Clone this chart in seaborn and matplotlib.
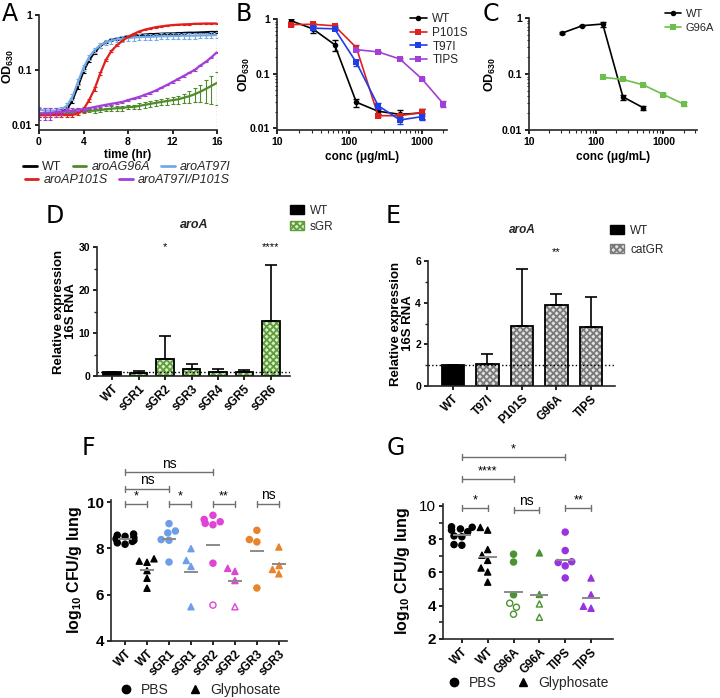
import numpy as np
import pandas as pd
import matplotlib
matplotlib.use("Agg")
import matplotlib.pyplot as plt
import seaborn as sns
from matplotlib.lines import Line2D
from matplotlib.patches import Patch
from matplotlib.ticker import FixedLocator, NullFormatter
import warnings

warnings.filterwarnings("ignore", category=UserWarning)

sns.set_theme(style="ticks")
plt.rcParams["font.family"] = ["Liberation Sans", "DejaVu Sans"]
plt.rcParams["mathtext.fontset"] = "custom"
plt.rcParams["mathtext.rm"] = "Liberation Sans"
plt.rcParams["mathtext.bf"] = "Liberation Sans:bold"
plt.rcParams["axes.linewidth"] = 1.2
plt.rcParams["xtick.major.width"] = 1.2
plt.rcParams["ytick.major.width"] = 1.2
plt.rcParams["xtick.major.size"] = 3
plt.rcParams["ytick.major.size"] = 3
plt.rcParams["hatch.linewidth"] = 1.3

# ---------------- data ----------------
# A: growth curves (OD630 every 30 min)
time_hr = np.arange(0, 16.5, 0.5)
a_wt = [0.015, 0.015, 0.016, 0.016, 0.017, 0.019, 0.028, 0.05, 0.095, 0.15, 0.21, 0.27, 0.32, 0.35, 0.37, 0.39, 0.41,
        0.42, 0.43, 0.44, 0.445, 0.45, 0.455, 0.46, 0.46, 0.465, 0.47, 0.475, 0.475, 0.48, 0.485, 0.49, 0.49]
a_wt_err = [0.001, 0.001, 0.001, 0.001, 0.001, 0.002, 0.003, 0.005, 0.008, 0.01, 0.012, 0.015, 0.015, 0.015, 0.015,
            0.015, 0.015, 0.015, 0.015, 0.015, 0.015, 0.015, 0.015, 0.015, 0.015, 0.015, 0.015, 0.015, 0.015, 0.015,
            0.015, 0.015, 0.015]
a_t97i = [0.019, 0.018, 0.018, 0.018, 0.019, 0.022, 0.032, 0.06, 0.11, 0.17, 0.23, 0.28, 0.32, 0.34, 0.36, 0.37, 0.38,
          0.39, 0.395, 0.40, 0.40, 0.405, 0.41, 0.41, 0.415, 0.415, 0.42, 0.42, 0.42, 0.425, 0.425, 0.43, 0.43]
a_t97i_err = [0.002, 0.002, 0.002, 0.002, 0.002, 0.003, 0.004, 0.008, 0.015, 0.02, 0.025, 0.03, 0.035, 0.04, 0.04,
              0.045, 0.045, 0.05, 0.05, 0.05, 0.05, 0.05, 0.05, 0.05, 0.05, 0.05, 0.05, 0.05, 0.05, 0.05, 0.05, 0.05,
              0.05]
a_p101s = [0.015, 0.015, 0.015, 0.015, 0.015, 0.015, 0.015, 0.016, 0.019, 0.028, 0.045, 0.085, 0.15, 0.22, 0.28, 0.34,
           0.40, 0.45, 0.50, 0.54, 0.57, 0.60, 0.62, 0.64, 0.655, 0.665, 0.675, 0.68, 0.69, 0.695, 0.70, 0.70, 0.70]
a_p101s_err = [0.001, 0.001, 0.001, 0.001, 0.001, 0.001, 0.001, 0.001, 0.002, 0.002, 0.003, 0.005, 0.008, 0.01, 0.01,
               0.01, 0.01, 0.01, 0.01, 0.01, 0.01, 0.01, 0.01, 0.01, 0.01, 0.01, 0.01, 0.01, 0.01, 0.01, 0.01, 0.01,
               0.01]
a_tips = [0.016, 0.016, 0.016, 0.017, 0.017, 0.018, 0.018, 0.019, 0.019, 0.020, 0.021, 0.022, 0.023, 0.024, 0.025,
          0.026, 0.028, 0.030, 0.032, 0.035, 0.038, 0.042, 0.047, 0.053, 0.060, 0.068, 0.077, 0.088, 0.10, 0.12, 0.14,
          0.17, 0.21]
a_tips_err = [0.004, 0.004, 0.004, 0.003, 0.002, 0.002, 0.002, 0.001, 0.001, 0.001, 0.001, 0.001, 0.001, 0.001, 0.001,
              0.001, 0.001, 0.001, 0.001, 0.001, 0.001, 0.001, 0.001, 0.001, 0.002, 0.002, 0.002, 0.002, 0.003, 0.003,
              0.003, 0.004, 0.004]
a_g96a = [0.016, 0.016, 0.016, 0.016, 0.016, 0.016, 0.017, 0.017, 0.0175, 0.018, 0.018, 0.0185, 0.019, 0.0195, 0.020,
          0.020, 0.021, 0.021, 0.022, 0.023, 0.024, 0.025, 0.026, 0.027, 0.028, 0.029, 0.031, 0.033, 0.036, 0.040,
          0.045, 0.051, 0.058]
a_g96a_err = [0.001, 0.001, 0.001, 0.001, 0.001, 0.001, 0.001, 0.001, 0.001, 0.001, 0.0015, 0.0015, 0.0015, 0.002,
              0.002, 0.002, 0.002, 0.002, 0.0025, 0.0025, 0.003, 0.003, 0.0035, 0.004, 0.004, 0.005, 0.006, 0.008,
              0.01, 0.014, 0.02, 0.027, 0.035]

# B / C: dose response (OD630 vs glyphosate conc)
conc = [15.625, 31.25, 62.5, 125, 250, 500, 1000, 2000]
b_wt = [0.93, 0.66, 0.34, 0.030, 0.0205, 0.018, 0.019]
b_wt_err = [0.06, 0.1, 0.08, 0.005, 0.002, 0.004, 0.004]
b_p101s = [0.79, 0.80, 0.75, 0.30, 0.017, 0.017, 0.0195]
b_p101s_err = [0.03, 0.05, 0.04, 0.04, 0.001, 0.001, 0.003]
b_t97i = [0.68, 0.66, 0.16, 0.026, 0.0142, 0.0163]
b_t97i_err = [0.05, 0.04, 0.02, 0.003, 0.002, 0.002]
b_tips = [0.275, 0.25, 0.185, 0.081, 0.028]
b_tips_err = [0.01, 0.005, 0.005, 0.003, 0.003]
c_wt = [0.54, 0.73, 0.78, 0.039, 0.025]
c_wt_err = [0.02, 0.02, 0.08, 0.004, 0.002]
c_g96a = [0.087, 0.08, 0.064, 0.043, 0.029]
c_g96a_err = [0.003, 0.003, 0.003, 0.002, 0.002]

# D / E: relative aroA expression
d_labels = ["WT", "sGR1", "sGR2", "sGR3", "sGR4", "sGR5", "sGR6"]
d_values = [1.0, 0.8, 4.0, 1.7, 0.9, 1.0, 12.9]
d_err = [0.0, 0.45, 5.3, 1.2, 0.8, 0.45, 12.8]
d_stars = ["", "", "*", "", "", "", "****"]
e_labels = ["WT", "T97I", "P101S", "G96A", "TIPS"]
e_values = [1.0, 1.05, 2.9, 3.9, 2.85]
e_err = [0.0, 0.5, 2.7, 0.52, 1.4]
e_stars = ["", "", "", "**", ""]

# F: lung CFU, sGR strains
f_labels = ["WT", "WT", "sGR1", "sGR1", "sGR2", "sGR2", "sGR3", "sGR3"]
f_treat = ["PBS", "Gly", "PBS", "Gly", "PBS", "Gly", "PBS", "Gly"]
f_wt_pbs = [8.62, 8.57, 8.52, 8.47, 8.43, 8.39, 8.35, 8.3, 8.24, 8.18]
f_wt_gly = [7.55, 7.45, 7.4, 7.04, 6.71, 6.28]
f_sgr1_pbs = [9.07, 8.75, 8.67, 8.38, 8.35, 7.41]
f_sgr1_gly = [7.99, 7.48, 7.22, 5.48]
f_sgr2_pbs = [9.43, 9.25, 9.15, 9.08, 9.02, 7.36]
f_sgr2_gly = [7.14, 7.01, 6.61]
f_sgr3_pbs = [8.78, 8.38, 8.28, 6.29]
f_sgr3_gly = [8.06, 7.26, 7.09, 6.9]
f_sgr2_pbs_open = [5.55]
f_sgr2_gly_open = [5.48]
f_means = [8.39, 7.06, 8.39, 7.0, 8.16, 6.57, 7.87, 7.33]
f_sig = [(0, 1, "*"), (2, 3, "*"), (4, 5, "**"), (6, 7, "ns"), (0, 2, "ns"), (0, 4, "ns")]

# G: lung CFU, catGR strains
g_labels = ["WT", "WT", "G96A", "G96A", "TIPS", "TIPS"]
g_treat = ["PBS", "Gly", "PBS", "Gly", "PBS", "Gly"]
g_wt_pbs = [8.75, 8.72, 8.62, 8.55, 8.45, 8.2, 8.15, 7.68, 7.64]
g_wt_gly = [8.71, 8.55, 7.38, 7.04, 6.73, 6.27, 6.03, 5.42]
g_g96a_pbs = [7.1, 6.63, 4.66]
g_g96a_gly = [7.18, 4.68]
g_tips_pbs = [8.43, 7.32, 6.65, 6.6, 6.4, 5.67]
g_tips_gly = [5.67, 4.66, 3.97, 3.85]
g_g96a_pbs_open = [4.15, 3.91, 3.49]
g_g96a_gly_open = [4.11, 3.31]
g_means = [8.27, 6.94, 4.82, 4.64, 6.77, 4.48]
g_sig = [(0, 1, "*"), (2, 3, "ns"), (4, 5, "**"), (0, 2, "****"), (0, 4, "*")]

# ---------------- layout helpers ----------------
W, H = 720, 698
fig = plt.figure(figsize=(7.2, 6.98), dpi=100)


def add_ax(x0, y0, x1, y1):
    return fig.add_axes([x0 / W, 1 - y1 / H, (x1 - x0) / W, (y1 - y0) / H])


def fx(px):
    return px / W


def fy(py):
    return 1 - py / H


def style_ax(ax, size=8):
    sns.despine(ax=ax)
    ax.tick_params(labelsize=size, colors="black", width=1.2, length=3, pad=2)
    for lab in ax.get_xticklabels() + ax.get_yticklabels():
        lab.set_fontweight("bold")


def ylabel_at(ax, right_px, left_px, width_px, y=0.5):
    # right_px: pixel x of the label's right edge, left_px / width_px: the axes position
    ax.yaxis.set_label_coords((right_px - left_px) / width_px, y)


bold = dict(fontweight="bold", color="black")
letter_kw = dict(fontsize=17, family="DejaVu Sans", va="top", ha="left", color="black")

# ---------------- A ----------------
axA = add_ax(39, 15, 217, 130)
a_series = [
    ("WT", a_wt, a_wt_err, "black"),
    ("aroAG96A", a_g96a, a_g96a_err, "#4f8a2b"),
    ("aroAT97I", a_t97i, a_t97i_err, "#74a9e6"),
    ("aroAP101S", a_p101s, a_p101s_err, "#e0201c"),
    ("aroAT97I/P101S", a_tips, a_tips_err, "#a23fd6"),
]
a_handles = {}
for name, vals, err, col in a_series:
    axA.errorbar(time_hr, vals, yerr=err, fmt="none", ecolor=col, elinewidth=0.8, capsize=1.5, capthick=0.8)
    sns.lineplot(x=time_hr, y=vals, color=col, lw=1.6, ax=axA)
    a_handles[name] = Line2D([0], [0], color=col, lw=2)
axA.axvline(16, color="#aaaaaa", ls=":", lw=1)
axA.set_yscale("log")
axA.set_ylim(0.008, 1)
axA.set_xlim(0, 16)
axA.set_xticks([0, 4, 8, 12, 16])
axA.yaxis.set_major_locator(FixedLocator([0.01, 0.1, 1]))
axA.set_yticklabels(["0.01", "0.1", "1"])
axA.yaxis.set_minor_formatter(NullFormatter())
axA.tick_params(which="minor", length=0)
axA.set_xlabel("time (hr)", fontsize=8.5, labelpad=1.5, **bold)
axA.set_ylabel(r"OD$_{\mathbf{630}}$", fontsize=9, **bold)
ylabel_at(axA, 16, 39, 178, 0.55)
style_ax(axA, size=7.5)
leg1 = fig.legend([a_handles[k] for k in ["WT", "aroAG96A", "aroAT97I"]],
                  ["WT", "aroAG96A", "aroAT97I"], ncol=3, loc="center", bbox_to_anchor=(fx(127), fy(167)),
                  frameon=False, fontsize=9, handlelength=1.1, handletextpad=0.4, columnspacing=0.9,
                  borderpad=0, borderaxespad=0)
leg2 = fig.legend([a_handles[k] for k in ["aroAP101S", "aroAT97I/P101S"]],
                  ["aroAP101S", "aroAT97I/P101S"], ncol=2, loc="center", bbox_to_anchor=(fx(127), fy(180)),
                  frameon=False, fontsize=9, handlelength=1.1, handletextpad=0.4, columnspacing=0.9,
                  borderpad=0, borderaxespad=0)
for leg in (leg1, leg2):
    for t in leg.get_texts():
        if t.get_text() != "WT":
            t.set_fontstyle("italic")
fig.text(fx(2), fy(2), "A", **letter_kw)


def dose_axis(ax, xmax, ymin):
    ax.set_xscale("log")
    ax.set_yscale("log")
    ax.set_xlim(10, xmax)
    ax.set_ylim(ymin, 1)
    ax.xaxis.set_major_locator(FixedLocator([10, 100, 1000]))
    ax.set_xticklabels(["10", "100", "1000"])
    ax.yaxis.set_major_locator(FixedLocator([0.01, 0.1, 1]))
    ax.set_yticklabels(["0.01", "0.1", "1"])
    ax.xaxis.set_minor_formatter(NullFormatter())
    ax.yaxis.set_minor_formatter(NullFormatter())
    ax.tick_params(which="minor", length=1.8, width=0.8)
    ax.set_xlabel("conc (μg/mL)", fontsize=8.5, labelpad=3, **bold)
    ax.set_ylabel(r"OD$_{\mathbf{630}}$", fontsize=9, **bold)
    style_ax(ax, size=7.5)


def dose_line(ax, x, y, err, col, marker):
    ax.errorbar(x, y, yerr=err, fmt="none", ecolor=col, elinewidth=1, capsize=2, capthick=1)
    sns.lineplot(x=x, y=y, color=col, lw=1.2, marker=marker, markersize=4, markeredgewidth=0, ax=ax)
    return Line2D([0], [0], color=col, lw=1.2, marker=marker, markersize=4, markeredgewidth=0)


# ---------------- B ----------------
axB = add_ax(277, 19, 447, 130)
hb = [dose_line(axB, conc[:7], b_wt, b_wt_err, "black", "o"),
      dose_line(axB, conc[:7], b_p101s, b_p101s_err, "#e0201c", "s"),
      dose_line(axB, conc[1:7], b_t97i, b_t97i_err, "#1f3ee6", "s"),
      dose_line(axB, conc[3:], b_tips, b_tips_err, "#a23fd6", "s")]
dose_axis(axB, 2240, 0.0093)
ylabel_at(axB, 252, 277, 170)
fig.legend(hb, ["WT", "P101S", "T97I", "TIPS"], loc="upper left", bbox_to_anchor=(fx(410), fy(13)),
           frameon=False, fontsize=8.5, handlelength=1.4, handletextpad=0.5, labelspacing=0.15,
           borderpad=0, borderaxespad=0)
fig.text(fx(236), fy(2), "B", **letter_kw)

# ---------------- C ----------------
axC = add_ax(529, 18, 697, 130)
hc = [dose_line(axC, conc[1:6], c_wt, c_wt_err, "black", "o"),
      dose_line(axC, conc[3:], c_g96a, c_g96a_err, "#6cc04a", "s")]
dose_axis(axC, 3160, 0.01)
ylabel_at(axC, 498, 529, 168)
fig.legend(hc, ["WT", "G96A"], loc="upper left", bbox_to_anchor=(fx(665), fy(9)),
           frameon=False, fontsize=8, handlelength=1.4, handletextpad=0.45, labelspacing=0.35,
           borderpad=0, borderaxespad=0)
fig.text(fx(483), fy(2), "C", **letter_kw)


# ---------------- D / E ----------------
def expr_bars(ax, labels, values, err, stars, hatch_col, face_col, star_y, ylim, major, minor):
    df = pd.DataFrame({"strain": labels, "value": values})
    pal = {lab: ("black" if i == 0 else face_col) for i, lab in enumerate(labels)}
    sns.barplot(data=df, x="strain", y="value", hue="strain", palette=pal, order=labels, width=0.65,
                saturation=1, legend=False, ax=ax, linewidth=0)
    for i, p in enumerate(ax.patches):
        if i > 0:
            p.set_hatch("xxxxx")
            p.set_edgecolor(hatch_col)
    sns.barplot(data=df, x="strain", y="value", order=labels, width=0.65, fill=False,
                edgecolor="black", linewidth=1.3, ax=ax)
    x = np.arange(len(labels))
    ax.errorbar(x, values, yerr=[np.zeros(len(err)), err], fmt="none", ecolor="black",
                elinewidth=1.2, capsize=4, capthick=1.2)
    ax.axhline(1, color="black", ls=":", lw=1)
    for i, s in enumerate(stars):
        if s:
            ax.text(i, star_y, s, ha="center", va="center", fontsize=8, color="black", clip_on=False)
    ax.set_ylim(*ylim)
    ax.set_yticks(major)
    ax.set_yticks(minor, minor=True)
    ax.tick_params(which="minor", length=2, width=1)
    ax.set_xlabel("")
    ax.set_ylabel("Relative expression\n16S RNA", fontsize=9.5, linespacing=1.0, **bold)
    style_ax(ax, size=7.5)
    ax.set_xticks(x)
    ax.set_xticklabels(labels, rotation=45, ha="right", rotation_mode="anchor", fontsize=8.5,
                       fontweight="bold")


axD = add_ax(97, 247, 290, 376)
expr_bars(axD, d_labels, d_values, d_err, d_stars, "#5f9e3c", "#dcecc9", 30, (0, 30),
          [0, 10, 20, 30], [5, 15, 25])
axD.set_xlim(-0.57, 6.72)
ylabel_at(axD, 77, 97, 193)
fig.text(fx(194), fy(225), "aroA", fontsize=9, fontweight="bold", fontstyle="italic", ha="center", va="center")
fig.legend([Patch(facecolor="black", edgecolor="black"),
            Patch(facecolor="#dcecc9", edgecolor="#5f9e3c", hatch="xxxxx")],
           ["WT", "sGR"], loc="upper left", bbox_to_anchor=(fx(290), fy(205)), frameon=False, fontsize=8.5,
           handlelength=1.2, handleheight=0.8, handletextpad=0.5, labelspacing=0.3, borderpad=0, borderaxespad=0)
fig.text(fx(46), fy(204), "D", **letter_kw)

axE = add_ax(428, 261, 615, 386)
expr_bars(axE, e_labels, e_values, e_err, e_stars, "#7a7a7a", "#e2e2e2", 6.43, (0, 6),
          [0, 2, 4, 6], [1, 3, 5])
axE.set_xlim(-0.72, 4.7)
ylabel_at(axE, 414, 428, 187)
fig.text(fx(522), fy(230), "aroA", fontsize=8.5, fontweight="bold", fontstyle="italic", ha="center",
         va="center")
fig.legend([Patch(facecolor="black", edgecolor="black"),
            Patch(facecolor="#e2e2e2", edgecolor="#7a7a7a", hatch="xxxxx")],
           ["WT", "catGR"], loc="upper left", bbox_to_anchor=(fx(610), fy(225)), frameon=False, fontsize=8.5,
           handlelength=1.2, handleheight=0.8, handletextpad=0.5, labelspacing=0.6, borderpad=0, borderaxespad=0)
fig.text(fx(386), fy(204), "E", **letter_kw)


# ---------------- F / G ----------------
def cfu_panel(ax, labels, treats, groups, opens, colors, means, sig, levels, half, cap):
    keys = [f"{l}_{t}" for l, t in zip(labels, treats)]
    rows = []
    for k, vals, ovals in zip(keys, groups, opens):
        rows += [(k, v, False) for v in vals] + [(k, v, True) for v in ovals]
    df = pd.DataFrame(rows, columns=["key", "value", "open"])
    df["treat"] = df["key"].str.split("_").str[1]
    pal = dict(zip(keys, colors))
    for tr, mk in [("PBS", "o"), ("Gly", "^")]:
        sns.swarmplot(data=df[df["treat"] == tr], x="key", y="value", hue="key", palette=pal, order=keys,
                      hue_order=keys, marker=mk, size=4.4, legend=False, ax=ax)
    for coll in ax.collections:
        off = coll.get_offsets()
        if len(off) == 0:
            continue
        idx = int(round(np.mean(off[:, 0])))
        sub = df[df["key"] == keys[idx]]
        col = colors[idx]
        coll.set_facecolors(["white" if o else col for o in sub["open"]])
        coll.set_edgecolor(col)
        coll.set_linewidth(1.0)
    for i, m in enumerate(means):
        ax.hlines(m, i - half, i + half, color="#8a8a8a", lw=1.4, zorder=5)
    for (i, j, lab), lev in zip(sig, levels):
        ax.plot([i, j], [lev, lev], color="#707070", lw=1, clip_on=False)
        ax.plot([i, i], [lev - cap, lev + cap], color="#707070", lw=1, clip_on=False)
        ax.plot([j, j], [lev - cap, lev + cap], color="#707070", lw=1, clip_on=False)
        ax.text((i + j) / 2, lev + cap * 0.6, lab, ha="center", va="bottom",
                fontsize=10 if lab == "ns" else 9, color="black", clip_on=False)
    ax.set_xlabel("")
    ax.set_ylabel(r"log$_{\mathbf{10}}$ CFU/g lung", fontsize=11.5, **bold)
    style_ax(ax, size=11)
    ax.set_xticks(range(len(labels)))
    ax.set_xticklabels(labels, rotation=45, ha="right", rotation_mode="anchor", fontsize=8.5,
                       fontweight="bold")


def cfu_legend(xc, yc):
    h = [Line2D([0], [0], marker="o", color="black", ls="none", markersize=6),
         Line2D([0], [0], marker="^", color="black", ls="none", markersize=6)]
    fig.legend(h, ["PBS", "Glyphosate"], ncol=2, loc="center", bbox_to_anchor=(fx(xc), fy(yc)),
               frameon=False, fontsize=10, handlelength=1.0, handletextpad=0.6, columnspacing=1.4,
               borderpad=0, borderaxespad=0)


axF = add_ax(111, 500, 287, 641)
cfu_panel(axF, f_labels, f_treat,
          [f_wt_pbs, f_wt_gly, f_sgr1_pbs, f_sgr1_gly, f_sgr2_pbs, f_sgr2_gly, f_sgr3_pbs, f_sgr3_gly],
          [[], [], [], [], f_sgr2_pbs_open, f_sgr2_gly_open, [], []],
          ["black", "black", "#6e9fe6", "#6e9fe6", "#e043d6", "#e043d6", "#e8842c", "#e8842c"],
          f_means, f_sig, [9.92, 9.92, 9.92, 9.92, 10.58, 11.28], 0.32, 0.13)
axF.set_ylim(4, 10.09)
axF.set_yticks([4, 6, 8, 10])
axF.set_xlim(-0.64, 7.37)
ylabel_at(axF, 84, 111, 176)
cfu_legend(200, 690)
fig.text(fx(82), fy(436), "F", **letter_kw)

axG = add_ax(443, 504, 613, 639)
cfu_panel(axG, g_labels, g_treat,
          [g_wt_pbs, g_wt_gly, g_g96a_pbs, g_g96a_gly, g_tips_pbs, g_tips_gly],
          [[], [], g_g96a_pbs_open, g_g96a_gly_open, [], []],
          ["black", "black", "#4a9232", "#4a9232", "#9b32e0", "#9b32e0"],
          g_means, g_sig, [9.85, 9.75, 9.85, 11.6, 12.95], 0.35, 0.18)
axG.set_ylim(2, 10.12)
axG.set_yticks([2, 4, 6, 8, 10])
axG.set_yticks([3, 5, 7, 9], minor=True)
axG.tick_params(which="minor", length=3, width=1.2)
axG.set_xlim(-0.73, 5.85)
ylabel_at(axG, 412, 443, 170)
cfu_legend(528, 683)
fig.text(fx(387), fy(436), "G", **letter_kw)

fig.savefig("out.png", dpi=100)
